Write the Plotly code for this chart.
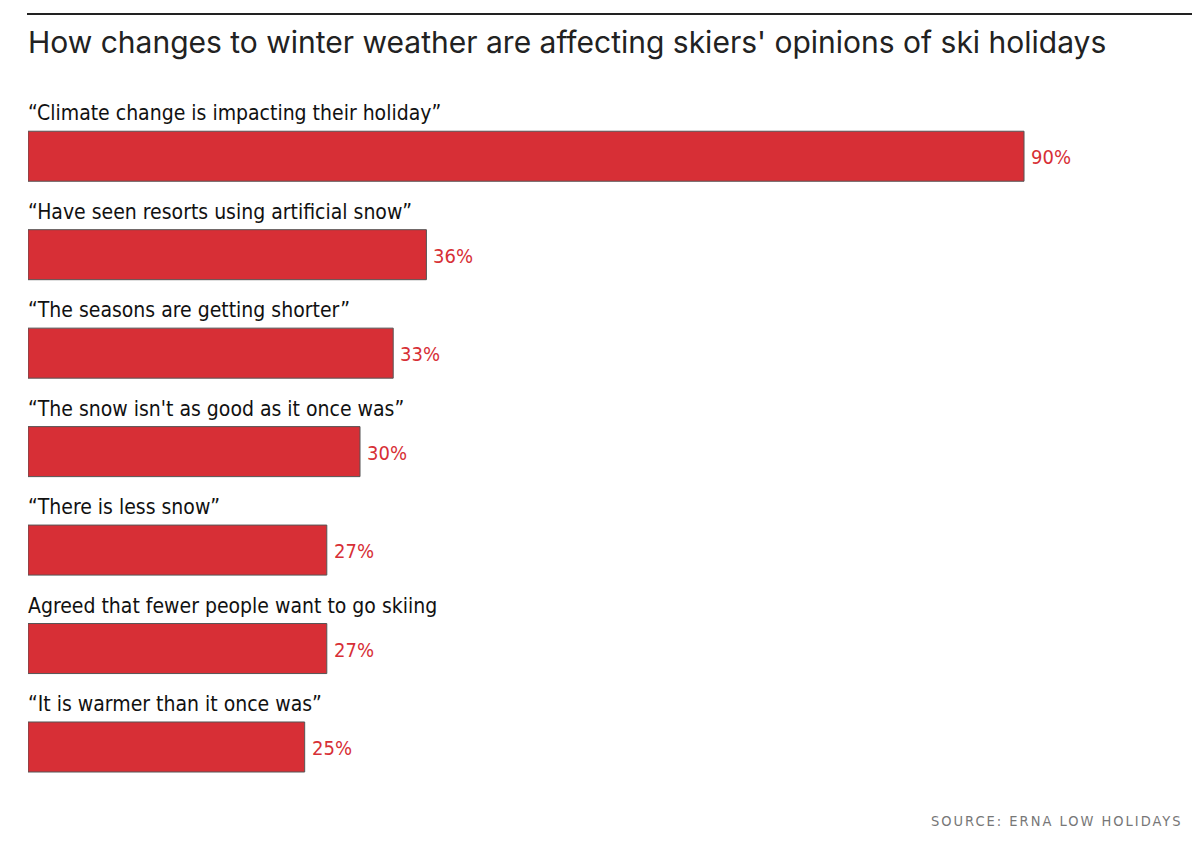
import plotly.graph_objects as go

categories = [
    "“Climate change is impacting their holiday”",
    "“Have seen resorts using artificial snow”",
    "“The seasons are getting shorter”",
    "“The snow isn't as good as it once was”",
    "“There is less snow”",
    "Agreed that fewer people want to go skiing",
    "“It is warmer than it once was”",
]
values = [90, 36, 33, 30, 27, 27, 25]
value_labels = [f"{v}%" for v in values]

title = "How changes to winter weather are affecting skiers' opinions of ski holidays"
source = "SOURCE: ERNA LOW HOLIDAYS"

RED = "#d72f36"
COND = "Liberation Sans Narrow, DejaVu Sans Condensed, Arial Narrow, sans-serif"

OFF = 8  # page body margin
W, H = 1200 - OFF, 855 - OFF
ML, MR, MT, MB = 28 - OFF, 0, 107 - OFF, 59 - OFF
PW, PH = W - ML - MR, H - MT - MB


def px_x(x):
    return (x - OFF - ML) / PW


def px_y(y):
    return (H - MB - (y - OFF)) / PH


fig = go.Figure(go.Bar(
    x=values, y=categories, orientation="h",
    marker=dict(color=RED, line=dict(color="#555555", width=1)),
    hoverinfo="x+y",
))

for c, v, t in zip(categories, values, value_labels):
    fig.add_annotation(x=0, y=c, xref="x", yref="y", text=c, showarrow=False,
                       xanchor="left", yanchor="middle", xshift=-2, yshift=43,
                       font=dict(family=COND, size=21, color="#111111"))
    fig.add_annotation(x=v, y=c, xref="x", yref="y", text=t, showarrow=False,
                       xanchor="left", yanchor="middle", xshift=5, yshift=-1,
                       font=dict(family=COND, size=20, color=RED))

fig.add_annotation(x=px_x(26), y=px_y(42), xref="paper", yref="paper", text=title, showarrow=False,
                   xanchor="left", yanchor="middle",
                   font=dict(family="Inter, Open Sans, sans-serif", size=30, color="#222222"))
fig.add_annotation(x=px_x(1185), y=px_y(821), xref="paper", yref="paper",
                   text='<span style="letter-spacing:2px">' + source + '</span>', showarrow=False,
                   xanchor="right", yanchor="middle",
                   font=dict(family="DejaVu Sans Condensed, sans-serif", size=14.5, color="#777777"))

fig.add_shape(type="line", xref="paper", yref="paper", x0=px_x(27), x1=px_x(1200),
              y0=px_y(14), y1=px_y(14), line=dict(color="#222222", width=2))

fig.update_layout(
    width=W, height=H,
    margin=dict(l=ML, r=MR, t=MT, b=MB),
    plot_bgcolor="white", paper_bgcolor="white",
    showlegend=False, bargap=0.492,
    xaxis=dict(range=[0, 105.9], visible=False),
    yaxis=dict(autorange="reversed", visible=False),
)
fig.write_html("out.html")
